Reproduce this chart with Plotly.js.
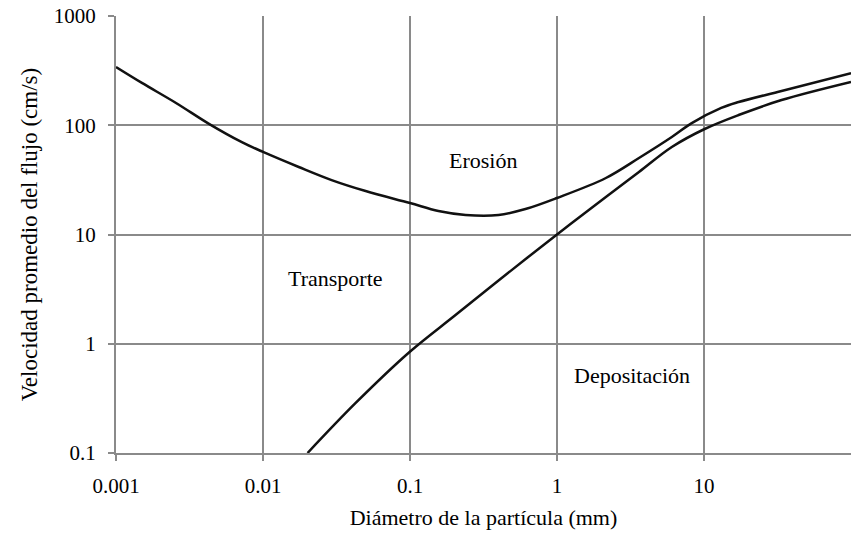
<!DOCTYPE html>
<html>
<head>
<meta charset="utf-8">
<script src="https://cdn.plot.ly/plotly-3.0.1.min.js"></script>
<style>html,body{margin:0;padding:0;background:#fff;}#chart{width:851px;height:536px;}</style>
</head>
<body>
<div id="chart"></div>
<script>
// Erosion threshold curve (upper)
const erosionX = [0.001, 0.0015, 0.00256, 0.00429, 0.00718, 0.01, 0.0175, 0.0293, 0.0499, 0.1, 0.156, 0.239, 0.40, 0.61, 1, 2.15, 3.61, 6.04, 8.2, 13.1, 17.2, 33.7, 100];
const erosionY = [341, 244, 160, 103, 70, 57, 41.5, 31.5, 25.0, 19.4, 16.4, 15.1, 15.1, 17.1, 21.6, 32.9, 50.1, 78, 104, 144, 163, 206, 300];
// Deposition threshold curve (lower)
const depositX = [0.0201, 0.0427, 0.0993, 0.204, 0.446, 1, 2.15, 3.61, 6.04, 10.1, 17.2, 33.7, 100];
const depositY = [0.1, 0.287, 0.84, 1.83, 4.26, 10, 22.0, 37.3, 63.2, 92.4, 124, 170, 249];
// Ticks
const xTickVals = [0.001, 0.01, 0.1, 1, 10];
const xTickText = ["0.001", "0.01", "0.1", "1", "10"];
const yTickVals = [0.1, 1, 10, 100, 1000];
const yTickText = ["0.1", "1", "10", "100", "1000"];
// Region labels
const regionNames = ["Erosión", "Transporte", "Depositación"];
const regionX = [0.314, 0.031, 3.24];
const regionY = [47.7, 3.95, 0.51];

const font = "Liberation Serif, Times New Roman, serif";
const lineStyle = {color: "#111", width: 2.5, shape: "spline", smoothing: 1};

const traces = [
  {x: erosionX, y: erosionY, mode: "lines", line: lineStyle, hoverinfo: "skip", showlegend: false},
  {x: depositX, y: depositY, mode: "lines", line: lineStyle, hoverinfo: "skip", showlegend: false}
];

const annotations = regionNames.map((t, i) => ({
  x: Math.log10(regionX[i]), y: Math.log10(regionY[i]), xref: "x", yref: "y",
  text: t, showarrow: false, font: {family: font, size: 22, color: "#000"}
}));

const axisCommon = {
  type: "log",
  showgrid: true, gridcolor: "#8a8a8a", gridwidth: 2,
  ticks: "outside", ticklen: 6, tickcolor: "#8a8a8a", tickwidth: 2,
  showline: true, linecolor: "#8a8a8a", linewidth: 2,
  zeroline: false,
  tickfont: {family: font, size: 21, color: "#000"}
};

const layout = {
  width: 851, height: 536,
  margin: {l: 116, r: 0, t: 16, b: 83},
  paper_bgcolor: "#fff", plot_bgcolor: "#fff",
  showlegend: false,
  font: {family: font, color: "#000"},
  xaxis: Object.assign({}, axisCommon, {
    range: [-3, 2],
    tickvals: xTickVals, ticktext: xTickText,
    ticklabelstandoff: 7,
    title: {text: "Diámetro de la partícula (mm)", font: {family: font, size: 22, color: "#000"}, standoff: 12}
  }),
  yaxis: Object.assign({}, axisCommon, {
    range: [-1, 3],
    tickvals: yTickVals, ticktext: yTickText,
    ticklabelstandoff: 8,
    title: {text: "Velocidad promedio del flujo (cm/s)", font: {family: font, size: 23, color: "#000"}, standoff: 10}
  }),
  annotations: annotations
};

Plotly.newPlot("chart", traces, layout, {staticPlot: true, displayModeBar: false});
</script>
</body>
</html>
